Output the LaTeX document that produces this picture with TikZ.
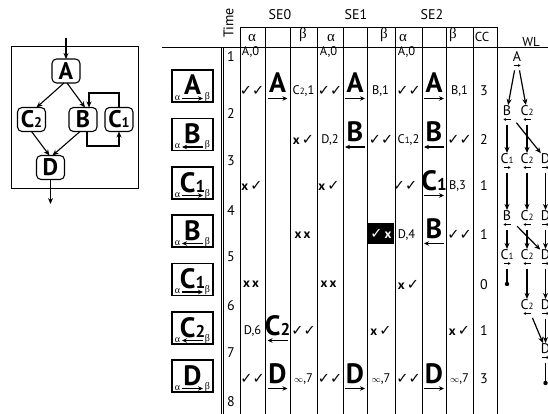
\documentclass[tikz,border=0pt]{standalone}
\usepackage{fontspec}
\setmainfont{PT Sans}
\newfontfamily\symfont{DejaVu Sans}
\newfontfamily\grkfont{Liberation Serif}
\usetikzlibrary{arrows.meta}
\newcommand{\fs}[1]{\fontsize{#1}{#1}\selectfont}
\newcommand{\al}{{\grkfont α}}
\newcommand{\be}{{\grkfont β}}
\newcommand{\ck}{{\symfont\fs{14.5}✓}}
\newcommand{\xm}{{\bfseries\fs{13}x}}
\newcommand{\smsub}[1]{{\fs{9}#1}}
\newcommand{\midcell}[5]{%
  \node[big] (#1) at (#2,#3+7) {#4};
  \coordinate (#1l) at (#2-10,#3+12.5);
  \coordinate (#1r) at (#2+10,#3+12.5);
  \ifnum#5>0 \draw[sarr] (#1l) -- (#1r);\else\draw[sarr] (#1r) -- (#1l);\fi}
\newcommand{\stepbox}[4]{%
  \node[sbox] (#1) at (192.5,#2) {};
  \node[big] (#1t) at (192.5,#2+9) {#3};
  \node[font=\fs{10}] (#1a) at (177.5,#2+12) {\al};
  \node[font=\fs{10}] (#1b) at (207.5,#2+11) {\be};
  \coordinate (#1l) at (182,#2+12.5);
  \coordinate (#1r) at (203,#2+12.5);
  \ifnum#4>0 \draw[sarr] (#1l) -- (#1r);\else\draw[sarr] (#1r) -- (#1l);\fi}
\newcommand{\wlitem}[5]{%
  \node[wl] (#1) at (#2,#3) {#4};
  \coordinate (#1l) at (#2-3.5,#3+8.5);
  \coordinate (#1r) at (#2+3.5,#3+8.5);
  \ifnum#5>0 \draw[wsm] (#1l) -- (#1r);\else\draw[wsm] (#1r) -- (#1l);\fi}
\begin{document}
\begin{tikzpicture}[x=1pt,y=-1pt,
  every node/.style={inner sep=0pt,outer sep=0pt},
  gnode/.style={draw,rounded corners=4.5pt,line width=1.1pt,minimum width=28pt,minimum height=24pt,font=\fs{24}\bfseries},
  garr/.style={line width=1.1pt,-{Stealth[length=6pt,width=5pt]}},
  tline/.style={line width=0.9pt},
  sbox/.style={draw,line width=1.1pt,minimum width=41pt,minimum height=32pt},
  big/.style={font=\fs{28}\bfseries,anchor=base},
  sarr/.style={line width=1.1pt,-{Stealth[length=5pt,width=4.5pt]}},
  cell/.style={font=\fs{12.5}},
  hdr/.style={font=\fs{14}},
  wl/.style={font=\fs{14}},
  warr/.style={line width=1.2pt,-{Stealth[length=6pt,width=5pt]},shorten <=8.5pt,shorten >=1pt},
  wsm/.style={line width=0.8pt,-{Stealth[length=2.5pt,width=3pt]}},
  wdead/.style={line width=1.2pt,shorten <=8.5pt},
]
\useasboundingbox (0,0) rectangle (548,414);

% ---------- left graph ----------
\draw[line width=1pt] (11,47) rectangle (138,188);
\node[gnode] (gA) at (66,71) {A};
\node[gnode] (gC2) at (31.5,119.5) {C{\fs{14}2}};
\node[gnode] (gB) at (83,119.5) {B};
\node[gnode] (gC1) at (119,119.5) {C{\fs{14}1}};
\node[gnode] (gD) at (50.5,167.5) {D};
\coordinate (gin) at (66,38);
\coordinate (gout) at (50.5,204);
\draw[garr] (gin) -- (gA.north);
\draw[garr] ([xshift=-2pt]gA.south) -- ([xshift=5pt]gC2.north);
\draw[garr] ([xshift=1pt]gA.south) -- ([xshift=2pt]gB.north);
\draw[garr] (gC2.south) -- ([xshift=-1pt]gD.north);
\draw[garr] ([xshift=-3pt]gB.south) -- ([xshift=2pt]gD.north);
\draw[garr] ([xshift=4pt]gB.south) |- (119,146) -- (gC1.south);
\draw[garr] (gC1.north) |- (89,93) -- ([xshift=6pt]gB.north);
\draw[garr] (gD.south) -- (gout);

% ---------- table lines ----------
\draw[tline] (162,47) -- (548,47);
\draw[tline] (240,27) -- (497,27);
\foreach \x in {240,265,290,317,343,367,395,422,446,473,497}
  \draw[tline] (\x,27) -- (\x,414);
\draw[tline] (221,47) -- (221,414);
\draw[tline] (223.5,47) -- (223.5,414);

% ---------- headers ----------
\node[hdr,rotate=90] (htime) at (228.5,23) {Time};
\node[hdr] (hse0) at (280,15) {SE0};
\node[hdr] (hse1) at (356,15) {SE1};
\node[hdr] (hse2) at (432,15) {SE2};
\node[font=\fs{15}] (ha0) at (252,38) {\al};
\node[font=\fs{15}] (hb0) at (303,35) {\be};
\node[font=\fs{15}] (ha1) at (331,38) {\al};
\node[font=\fs{15}] (hb1) at (384,35) {\be};
\node[font=\fs{15}] (ha2) at (403,38) {\al};
\node[font=\fs{15}] (hb2) at (453,35) {\be};
\node[font=\fs{13}] (hcc) at (482,37) {CC};
\node[font=\fs{13}] (hwl) at (531,42) {WL};

% ---------- time ----------
\foreach \t/\y in {1/57,2/114,3/161,4/211,5/257,6/306,7/353,8/402}
  \node[font=\fs{14}] (time\t) at (231,\y) {\t};

% ---------- row 0 ----------
\node[cell] (r0a) at (250.5,52) {A,0};
\node[cell] (r0b) at (328.5,52) {A,0};
\node[cell] (r0c) at (406.5,52) {A,0};

% ---------- row A (cy=86) ----------
\stepbox{sA}{86}{A}{1}
\node[cell] (rAa) at (252,91) {\ck\ck};
\midcell{rAm0}{277.5}{86}{A}{1}
\node[cell] (rAb) at (303.5,91) {C\smsub{2},1};
\node[cell] (rAc) at (330,91) {\ck\ck};
\midcell{rAm1}{355}{86}{A}{1}
\node[cell] (rAd) at (380.5,91) {B,1};
\node[cell] (rAe) at (408.5,91) {\ck\ck};
\midcell{rAm2}{434}{86}{A}{1}
\node[cell] (rAf) at (459.5,91) {B,1};
\node[font=\fs{14}] (rAcc) at (484,91) {3};

% ---------- row B (cy=134.5) ----------
\stepbox{sB}{134.5}{B}{-1}
\node[cell] (rBb) at (303.5,139.5) {\xm\,\ck};
\node[cell] (rBc) at (330,139.5) {D,2};
\midcell{rBm1}{355}{134.5}{B}{-1}
\node[cell] (rBd) at (381,139.5) {\ck\ck};
\node[cell] (rBe) at (408.5,139.5) {C\smsub{1},2};
\midcell{rBm2}{434}{134.5}{B}{-1}
\node[cell] (rBf) at (459.5,139.5) {\ck\ck};
\node[font=\fs{14}] (rBcc) at (484,139.5) {2};

% ---------- row C1 (cy=183) ----------
\stepbox{sC}{183}{C{\fs{17}1}}{1}
\node[cell] (rCa) at (252,186) {\xm\,\ck};
\node[cell] (rCc) at (329,186) {\xm\,\ck};
\node[cell] (rCe) at (405,186) {\ck\ck};
\midcell{rCm2}{434}{183}{C{\fs{17}1}}{1}
\node[cell] (rCf) at (457.5,186) {B,3};
\node[font=\fs{14}] (rCcc) at (484,186) {1};

% ---------- row B2 (cy=231) ----------
\stepbox{sD}{231}{B}{-1}
\node[cell] (rDb) at (302.5,235) {\xm\,\xm};
\node[fill=black,text=white,minimum width=26.5pt,minimum height=21pt,font=\fs{12.5}] (rDblk) at (381,233.5) {\ck\,\xm};
\node[cell] (rDe) at (406.5,235) {D,4};
\midcell{rDm2}{434}{231}{B}{-1}
\node[cell] (rDf) at (459.5,235) {\ck\ck};
\node[font=\fs{14}] (rDcc) at (484,235) {1};

% ---------- row C1 second (cy=279.5) ----------
\stepbox{sE}{279.5}{C{\fs{17}1}}{1}
\node[cell] (rEa) at (251,284.5) {\xm\,\xm};
\node[cell] (rEc) at (328.5,284.5) {\xm\,\xm};
\node[cell] (rEe) at (408.5,284.5) {\xm\,\ck};
\node[font=\fs{14}] (rEcc) at (484,284.5) {0};

% ---------- row C2 (cy=328) ----------
\stepbox{sF}{328}{C{\fs{17}2}}{-1}
\node[cell] (rFa) at (252.5,331) {D,6};
\midcell{rFm0}{277.5}{328}{C{\fs{17}2}}{-1}
\node[cell] (rFb) at (303.5,331) {\ck\ck};
\node[cell] (rFd) at (381,331) {\xm\,\ck};
\node[cell] (rFf) at (459.5,331) {\xm\,\ck};
\node[font=\fs{14}] (rFcc) at (484,331) {1};

% ---------- row D (cy=376) ----------
\stepbox{sG}{376}{D}{1}
\node[cell] (rGa) at (252.5,379) {\ck\ck};
\midcell{rGm0}{277.5}{376}{D}{1}
\node[cell] (rGb) at (303.5,379) {$\scriptstyle\infty$,7};
\node[cell] (rGc) at (330,379) {\ck\ck};
\midcell{rGm1}{355}{376}{D}{1}
\node[cell] (rGd) at (381,379) {$\scriptstyle\infty$,7};
\node[cell] (rGe) at (408.5,379) {\ck\ck};
\midcell{rGm2}{434}{376}{D}{1}
\node[cell] (rGf) at (459.5,379) {$\scriptstyle\infty$,7};
\node[font=\fs{14}] (rGcc) at (484,379) {3};

% ---------- worklist ----------
\wlitem{wA}{517}{57}{A}{1}
\wlitem{wB1}{507}{111}{B}{-1}
\wlitem{wC21}{527}{111}{C\smsub{2}}{-1}
\wlitem{wC12}{507}{159}{C\smsub{1}}{1}
\wlitem{wC22}{527}{159}{C\smsub{2}}{-1}
\wlitem{wD2}{545.5}{159}{D}{1}
\wlitem{wB3}{507}{216}{B}{-1}
\wlitem{wC23}{527}{216}{C\smsub{2}}{-1}
\wlitem{wD3}{545.5}{216}{D}{1}
\wlitem{wC14}{507}{255}{C\smsub{1}}{1}
\wlitem{wC24}{527}{255}{C\smsub{2}}{-1}
\wlitem{wD4}{545.5}{255}{D}{1}
\wlitem{wC25}{527}{305}{C\smsub{2}}{-1}
\wlitem{wD5}{545.5}{305}{D}{1}
\wlitem{wD6}{545.5}{349}{D}{1}
\draw[warr] (wA) -- (wB1);
\draw[warr] (wA) -- (wC21);
\draw[warr] (wB1) -- (wC12);
\draw[warr] (wC21) -- (wC22);
\draw[warr] (wB1) -- (wD2);
\draw[warr] (wC12) -- (wB3);
\draw[warr] (wC22) -- (wC23);
\draw[warr] (wD2) -- (wD3);
\draw[warr] (wB3) -- (wC14);
\draw[warr] (wC23) -- (wC24);
\draw[warr] (wB3) -- (wD4);
\draw[warr] (wD3) -- (wD4);
\draw[warr] (wC24) -- (wC25);
\draw[warr] (wD4) -- (wD5);
\draw[warr] (wC25) -- (wD6);
\draw[warr] (wD5) -- (wD6);
\coordinate (wE1) at (507,284);
\coordinate (wE2) at (545.5,383);
\draw[wdead] (wC14) -- (wE1);
\fill (wE1) circle (2.2);
\draw[wdead] (wD6) -- (wE2);
\fill (wE2) circle (2.2);
\end{tikzpicture}
\end{document}
